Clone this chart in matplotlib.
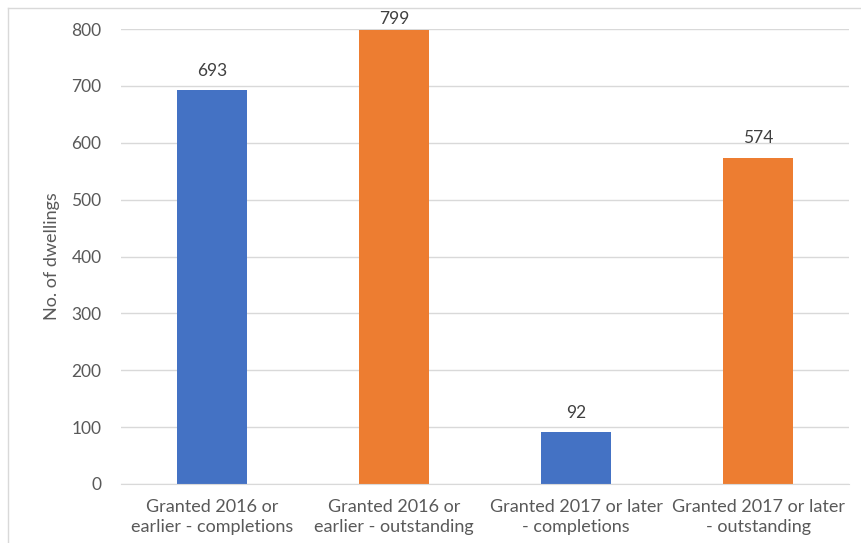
import matplotlib.pyplot as plt
from matplotlib.lines import Line2D

categories = [
    "Granted 2016 or\nearlier - completions",
    "Granted 2016 or\nearlier - outstanding",
    "Granted 2017 or later\n- completions",
    "Granted 2017 or later\n- outstanding",
]
values = [693, 799, 92, 574]
colors = ["#4472C4", "#ED7D31", "#4472C4", "#ED7D31"]
yticks = [0, 100, 200, 300, 400, 500, 600, 700, 800]

plt.rcParams['font.family'] = ['Lato', 'DejaVu Sans']

W, H = 861, 543
fig = plt.figure(figsize=(W / 100, H / 100), dpi=100)
ax = fig.add_axes([121 / W, 1 - 484 / H, (849 - 121) / W, (484 - 29) / H])

x = range(len(values))
bars = ax.bar(x, values, width=0.385, color=colors, zorder=2)
for b, v in zip(bars, values):
    # label that would run into the frame is pulled down closer to the bar
    off = 2 if v > 760 else 8
    ax.annotate(str(v), (b.get_x() + b.get_width() / 2, v), xytext=(0, off),
                textcoords="offset points", ha="center", va="bottom",
                fontsize=12.5, color="#404040", annotation_clip=False, zorder=3)

ax.set_xlim(-0.5, len(values) - 0.5)
ax.set_ylim(0, 800)
ax.set_yticks(yticks)
ax.set_xticks(list(x))
ax.set_xticklabels(categories, fontsize=13, color="#595959", linespacing=1.25)
ax.tick_params(axis="y", labelsize=12.5, labelcolor="#595959", length=0, pad=14)
ax.tick_params(axis="x", length=0, pad=11)
ax.grid(axis="y", color="#D9D9D9", linewidth=1, zorder=0)
for s in ["top", "right", "left"]:
    ax.spines[s].set_visible(False)
ax.spines["bottom"].set_color("#D9D9D9")
ax.set_ylabel("No. of dwellings", fontsize=13, color="#595959", labelpad=8)

# light outer frame (left and top edges)
fig.add_artist(Line2D([8 / W, 8 / W], [0, 1 - 8 / H], color="#D9D9D9", linewidth=1))
fig.add_artist(Line2D([8 / W, 1], [1 - 8 / H, 1 - 8 / H], color="#D9D9D9", linewidth=1))

fig.savefig("out.png", dpi=100)
plt.close(fig)
